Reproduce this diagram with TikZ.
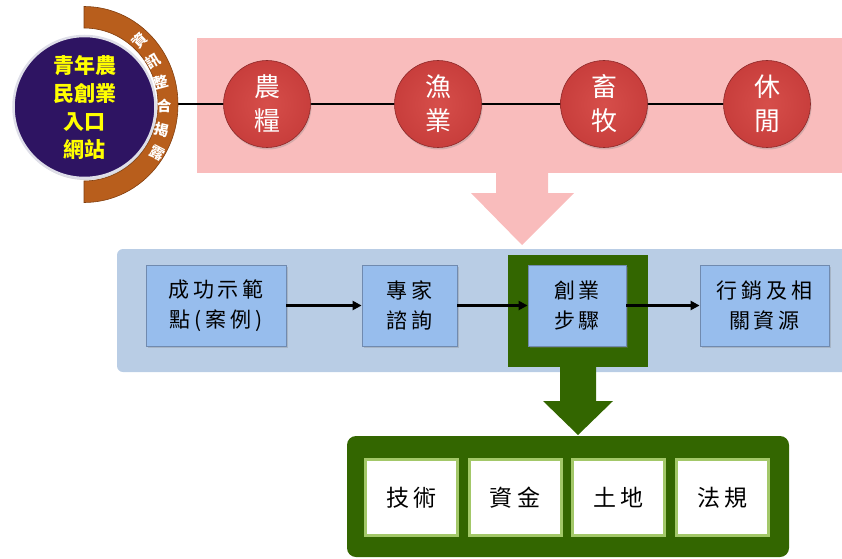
\documentclass[tikz,border=0pt]{standalone}
\usepackage{fontspec}
\newfontfamily\cjk{Noto Sans CJK TC}
\newfontfamily\cjks[LetterSpace=18]{Noto Sans CJK TC}
\usetikzlibrary{arrows.meta,shadows}
\definecolor{pinkbg}{RGB}{249,188,188}
\definecolor{redball}{RGB}{200,62,60}
\definecolor{redinner}{RGB}{214,78,74}
\definecolor{rededge}{RGB}{140,40,40}
\definecolor{purplec}{RGB}{46,20,98}
\definecolor{rimgray}{RGB}{222,222,232}
\definecolor{orangec}{RGB}{184,94,28}
\definecolor{orangeedge}{RGB}{130,62,14}
\definecolor{bluepanel}{RGB}{185,205,229}
\definecolor{boxblue}{RGB}{151,189,237}
\definecolor{boxedge}{RGB}{112,138,175}
\definecolor{greenc}{RGB}{51,102,0}
\definecolor{lightgreen}{RGB}{163,200,105}
\definecolor{yellowt}{RGB}{255,255,0}
\pgfdeclarelayer{bg}
\pgfdeclarelayer{mid}
\pgfsetlayers{bg,mid,main}
\tikzset{
  redcirc/.style={circle, minimum size=87pt, inner sep=0pt, inner color=redinner, outer color=redball,
    draw=rededge, line width=0.6pt, text=white, align=center,
    font=\cjk\fontsize{26}{34}\selectfont,
    drop shadow={shadow xshift=1pt, shadow yshift=-2pt, opacity=0.3}},
  bluebox/.style={rectangle, fill=boxblue, draw=boxedge, line width=0.8pt, inner sep=0pt,
    minimum height=81pt, align=center, text=black,
    font=\cjks\fontsize{21}{30}\selectfont,
    drop shadow={shadow xshift=1.5pt, shadow yshift=-1.5pt, opacity=0.3}},
  whitebox/.style={rectangle, fill=white, draw=lightgreen, line width=3pt, inner sep=0pt,
    minimum width=92pt, minimum height=76pt, text=black,
    font=\cjks\fontsize{23}{28}\selectfont},
  flowarrow/.style={line width=2.5pt, -{Triangle[length=9pt,width=9pt]}},
  arcchar/.style={text=white, inner sep=0pt, font=\cjk\bfseries\fontsize{14.5}{15}\selectfont}
}
\begin{document}
\begin{tikzpicture}[x=1pt,y=1pt]
\useasboundingbox (0,0) rectangle (842,558);
% pink band and arrow
\begin{pgfonlayer}{bg}
\fill[pinkbg] (197,385) rectangle (842,520);
\fill[pinkbg] (496,385.5) -- (496,365) -- (471,365) -- (522,313) -- (574,365) -- (548,365) -- (548,385.5) -- cycle;
\end{pgfonlayer}
% orange half ring
\fill[orangec, draw=orangeedge, line width=0.6pt] (84,551.5) arc[start angle=90,end angle=-90,x radius=94,y radius=98]
  -- (84,377) arc[start angle=-90,end angle=90,x radius=74,y radius=76.5] -- cycle;
% portal circle
\node[circle, minimum size=142pt, inner sep=0pt, fill=purplec, draw=rimgray, line width=2.5pt,
  text=yellowt, align=center, font=\cjk\bfseries\fontsize{21}{28}\selectfont,
  drop shadow={shadow xshift=1pt, shadow yshift=-2pt, opacity=0.3}] (portal) at (84.5,451)
  {青年農\\民創業\\入口\\網站};
\node[arcchar, rotate=45] (t1) at (140,518) {資};
\node[arcchar, rotate=30] (t2) at (153,497) {訊};
\node[arcchar, rotate=15] (t3) at (161,476) {整};
\node[arcchar, rotate=0] (t4) at (164,452) {合};
\node[arcchar, rotate=-14] (t5) at (162,428) {揭};
\node[arcchar, rotate=-27] (t6) at (157,405) {露};
\coordinate (arcR) at (178,454);
% red circles
\node[redcirc] (c1) at (267,454) {農\\糧};
\node[redcirc] (c2) at (438,454) {漁\\業};
\node[redcirc] (c3) at (604,454) {畜\\牧};
\node[redcirc] (c4) at (767,454) {休\\閒};
\begin{pgfonlayer}{mid}
\draw[line width=2.8pt] (arcR) -- (c1) -- (c2) -- (c3) -- (c4);
\end{pgfonlayer}
% blue panel
\fill[bluepanel, rounded corners=6pt] (117,186) rectangle (860,309);
\fill[greenc] (508,191) rectangle (648,303);
\fill[greenc] (560,191.5) -- (560,157) -- (543,157) -- (578,123) -- (613,157) -- (596,157) -- (596,191.5) -- cycle;
\node[bluebox, minimum width=140pt] (b1) at (216,252.5) {成功示範\\點(案例)};
\node[bluebox, minimum width=95pt] (b2) at (409.5,252.5) {專家\\諮詢};
\node[bluebox, minimum width=98pt] (b3) at (577,252.5) {創業\\步驟};
\node[bluebox, minimum width=129pt] (b4) at (764.5,252.5) {行銷及相\\關資源};
\draw[flowarrow] (b1) -- (b2);
\draw[flowarrow] (b2) -- (b3);
\draw[flowarrow] (b3) -- (b4);
% bottom group
\fill[greenc, rounded corners=9pt] (347,1) rectangle (789,122);
\node[whitebox] (w1) at (411.5,60.5) {技術};
\node[whitebox] (w2) at (515,60.5) {資金};
\node[whitebox] (w3) at (618.5,60.5) {土地};
\node[whitebox] (w4) at (722.5,60.5) {法規};
\end{tikzpicture}
\end{document}
